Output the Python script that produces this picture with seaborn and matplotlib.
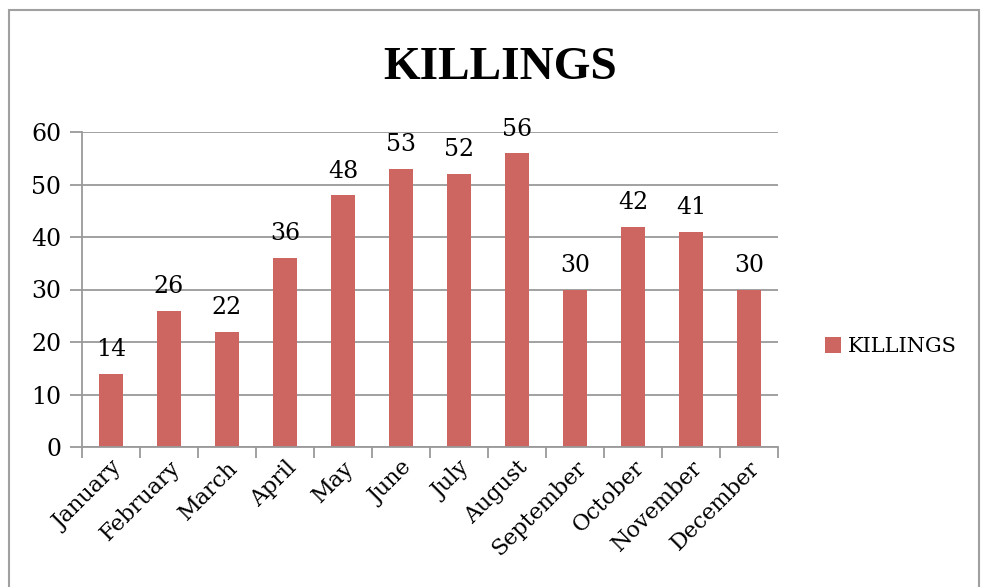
import matplotlib
matplotlib.use("Agg")
import matplotlib.pyplot as plt
import seaborn as sns
import pandas as pd
from matplotlib.patches import Rectangle

months = ["January", "February", "March", "April", "May", "June", "July",
          "August", "September", "October", "November", "December"]
killings = [14, 26, 22, 36, 48, 53, 52, 56, 30, 42, 41, 30]
series_name = "KILLINGS"

df = pd.DataFrame({"Month": months, "Killings": killings, "Series": series_name})

sns.set_style("white")
plt.rcParams["font.family"] = ["DejaVu Serif"]
plt.rcParams["text.color"] = "black"
plt.rcParams["xtick.color"] = "black"
plt.rcParams["ytick.color"] = "black"

bar_color = "#CD6661"
grid_color = "#9A9A9A"

fig = plt.figure(figsize=(9.81, 5.87), dpi=100)
ax = fig.add_axes([82 / 981, 1 - 447 / 587, (778 - 82) / 981, (447 - 132) / 587])

sns.barplot(data=df, x="Month", y="Killings", hue="Series", palette=[bar_color],
            width=0.4, ax=ax, saturation=1, legend=True, linewidth=0)

ax.set_ylim(0, 60)
ax.set_xlim(-0.5, len(months) - 0.5)
ax.set_yticks(range(0, 61, 10))
ax.yaxis.grid(True, color=grid_color, linewidth=1.3)
ax.set_axisbelow(True)
ax.set_xlabel("")
ax.set_ylabel("")

for side in ["top", "right"]:
    ax.spines[side].set_visible(False)
for side in ["left", "bottom"]:
    ax.spines[side].set_color(grid_color)
    ax.spines[side].set_linewidth(1.3)

# ticks between categories like Excel
ax.set_xticks([i - 0.5 for i in range(len(months) + 1)], minor=True)
ax.tick_params(axis="x", which="minor", length=8, color=grid_color, width=1.3, bottom=True)
ax.tick_params(axis="x", which="major", length=0, pad=7)
ax.tick_params(axis="y", length=9, color=grid_color, width=1.3, left=True, pad=6,
               labelcolor="black")
ax.set_xticks(range(len(months)))
ax.set_xticklabels(months, rotation=45, ha="right", rotation_mode="anchor",
                   fontsize=16, color="black")
for lbl in ax.get_yticklabels():
    lbl.set_fontsize(17)

for container in ax.containers:
    ax.bar_label(container, fmt="%d", padding=9, fontsize=17, color="black")

ax.legend(handles=ax.get_legend().legend_handles, labels=[series_name],
          loc="center left", bbox_to_anchor=(1.04, 0.32), frameon=False,
          handlelength=0.8, handleheight=0.8, handletextpad=0.3,
          prop={"family": "DejaVu Serif", "size": 15})

fig.text(500 / 981, 1 - 68 / 587, "KILLINGS", ha="center", va="center",
         fontsize=34, fontweight="bold", family="Liberation Serif", color="black")

fig.patches.append(Rectangle((9 / 981, -0.01), 970 / 981, 1 - 10 / 587 + 0.01,
                             transform=fig.transFigure, fill=False,
                             edgecolor="#A0A0A0", linewidth=1.5))

fig.savefig("out.png", dpi=100)
